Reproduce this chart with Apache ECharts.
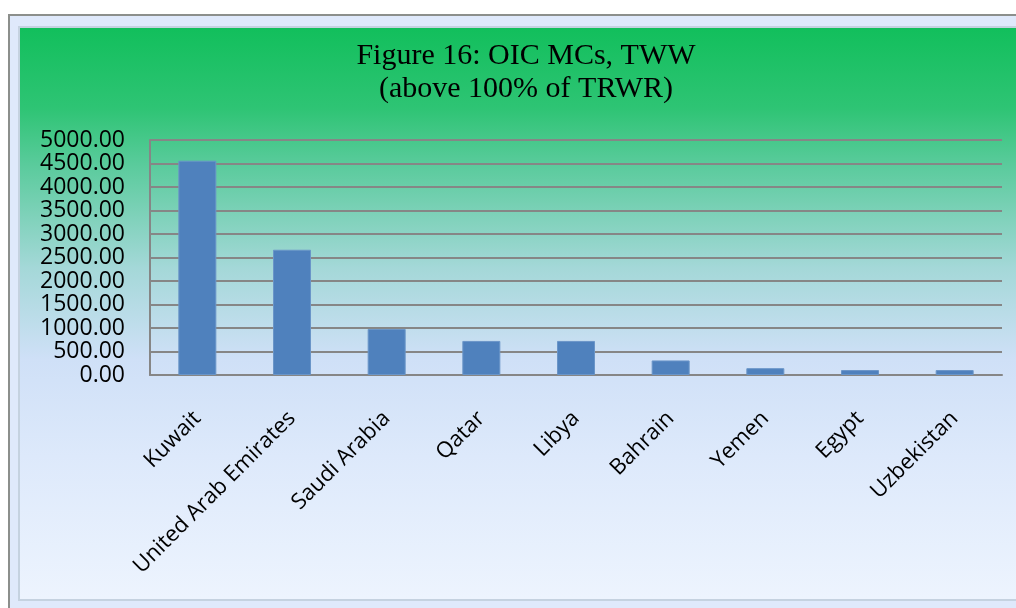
<!DOCTYPE html>
<html>
<head>
<meta charset="utf-8">
<script src="https://cdn.jsdelivr.net/npm/echarts@6/dist/echarts.min.js"></script>
<style>
  html, body { margin: 0; padding: 0; background: #fff; }
  #wrap { position: relative; width: 1016px; height: 608px; overflow: hidden; }
  /* 外框 */
  #frame {
    position: absolute; left: 8px; top: 14px; width: 1020px; height: 600px;
    border: 2px solid #8c8f8c; box-sizing: border-box;
    background: #dfe9fb;
  }
  #panel {
    position: absolute; left: 18px; top: 26px; width: 1020px; height: 575px;
    box-sizing: border-box; border: 2px solid #c5d2e0;
    background: linear-gradient(to bottom, #12bf5c 0%, #2ec474 14%, #5acb9c 24%, #a4d8d8 42%, #cfe0f7 58%, #dde9fb 75%, #edf4fe 100%);
  }
  #chart { position: absolute; left: 0; top: 0; width: 1016px; height: 608px; }
</style>
</head>
<body>
<div id="wrap">
  <div id="frame"></div>
  <div id="panel"></div>
  <div id="chart"></div>
</div>
<script>
// ===== 数据 =====
const countries = ['Kuwait', 'United Arab Emirates', 'Saudi Arabia', 'Qatar', 'Libya',
  'Bahrain', 'Yemen', 'Egypt', 'Uzbekistan']
const tww = [4560, 2665, 980, 725, 725, 310, 145, 105, 105]

const chart = echarts.init(document.getElementById('chart'))

chart.setOption({
  backgroundColor: 'transparent',
  animation: false,
  title: {
    text: 'Figure 16: OIC MCs, TWW\n(above 100% of TRWR)',
    left: 521,
    textAlign: 'center',
    top: 35,
    textStyle: {
      fontFamily: 'Liberation Serif',
      fontWeight: 'normal',
      fontSize: 30,
      lineHeight: 33,
      color: '#000',
    },
  },
  grid: { left: 150, right: 14, top: 140, bottom: 233 },
  xAxis: {
    type: 'category',
    data: countries,
    axisLine: { lineStyle: { color: '#868686', width: 2 } },
    axisTick: { show: false },
    axisLabel: {
      rotate: 45,
      margin: 40,
      fontFamily: 'Open Sans',
      fontSize: 22,
      color: '#000',
      interval: 0,
    },
  },
  yAxis: {
    type: 'value',
    min: 0,
    max: 5000,
    interval: 500,
    axisLine: { show: true, lineStyle: { color: '#868686', width: 2 } },
    axisTick: { show: false },
    splitLine: { lineStyle: { color: '#868686', width: 2 } },
    axisLabel: {
      margin: 25,
      fontFamily: 'Open Sans',
      fontSize: 23,
      color: '#000',
      formatter: (v) => v.toFixed(2),
    },
  },
  series: [{
    type: 'bar',
    data: tww,
    barWidth: 38,
    itemStyle: { color: '#4f81bd', borderColor: '#6a95c8', borderWidth: 1 },
  }],
})
</script>
</body>
</html>
